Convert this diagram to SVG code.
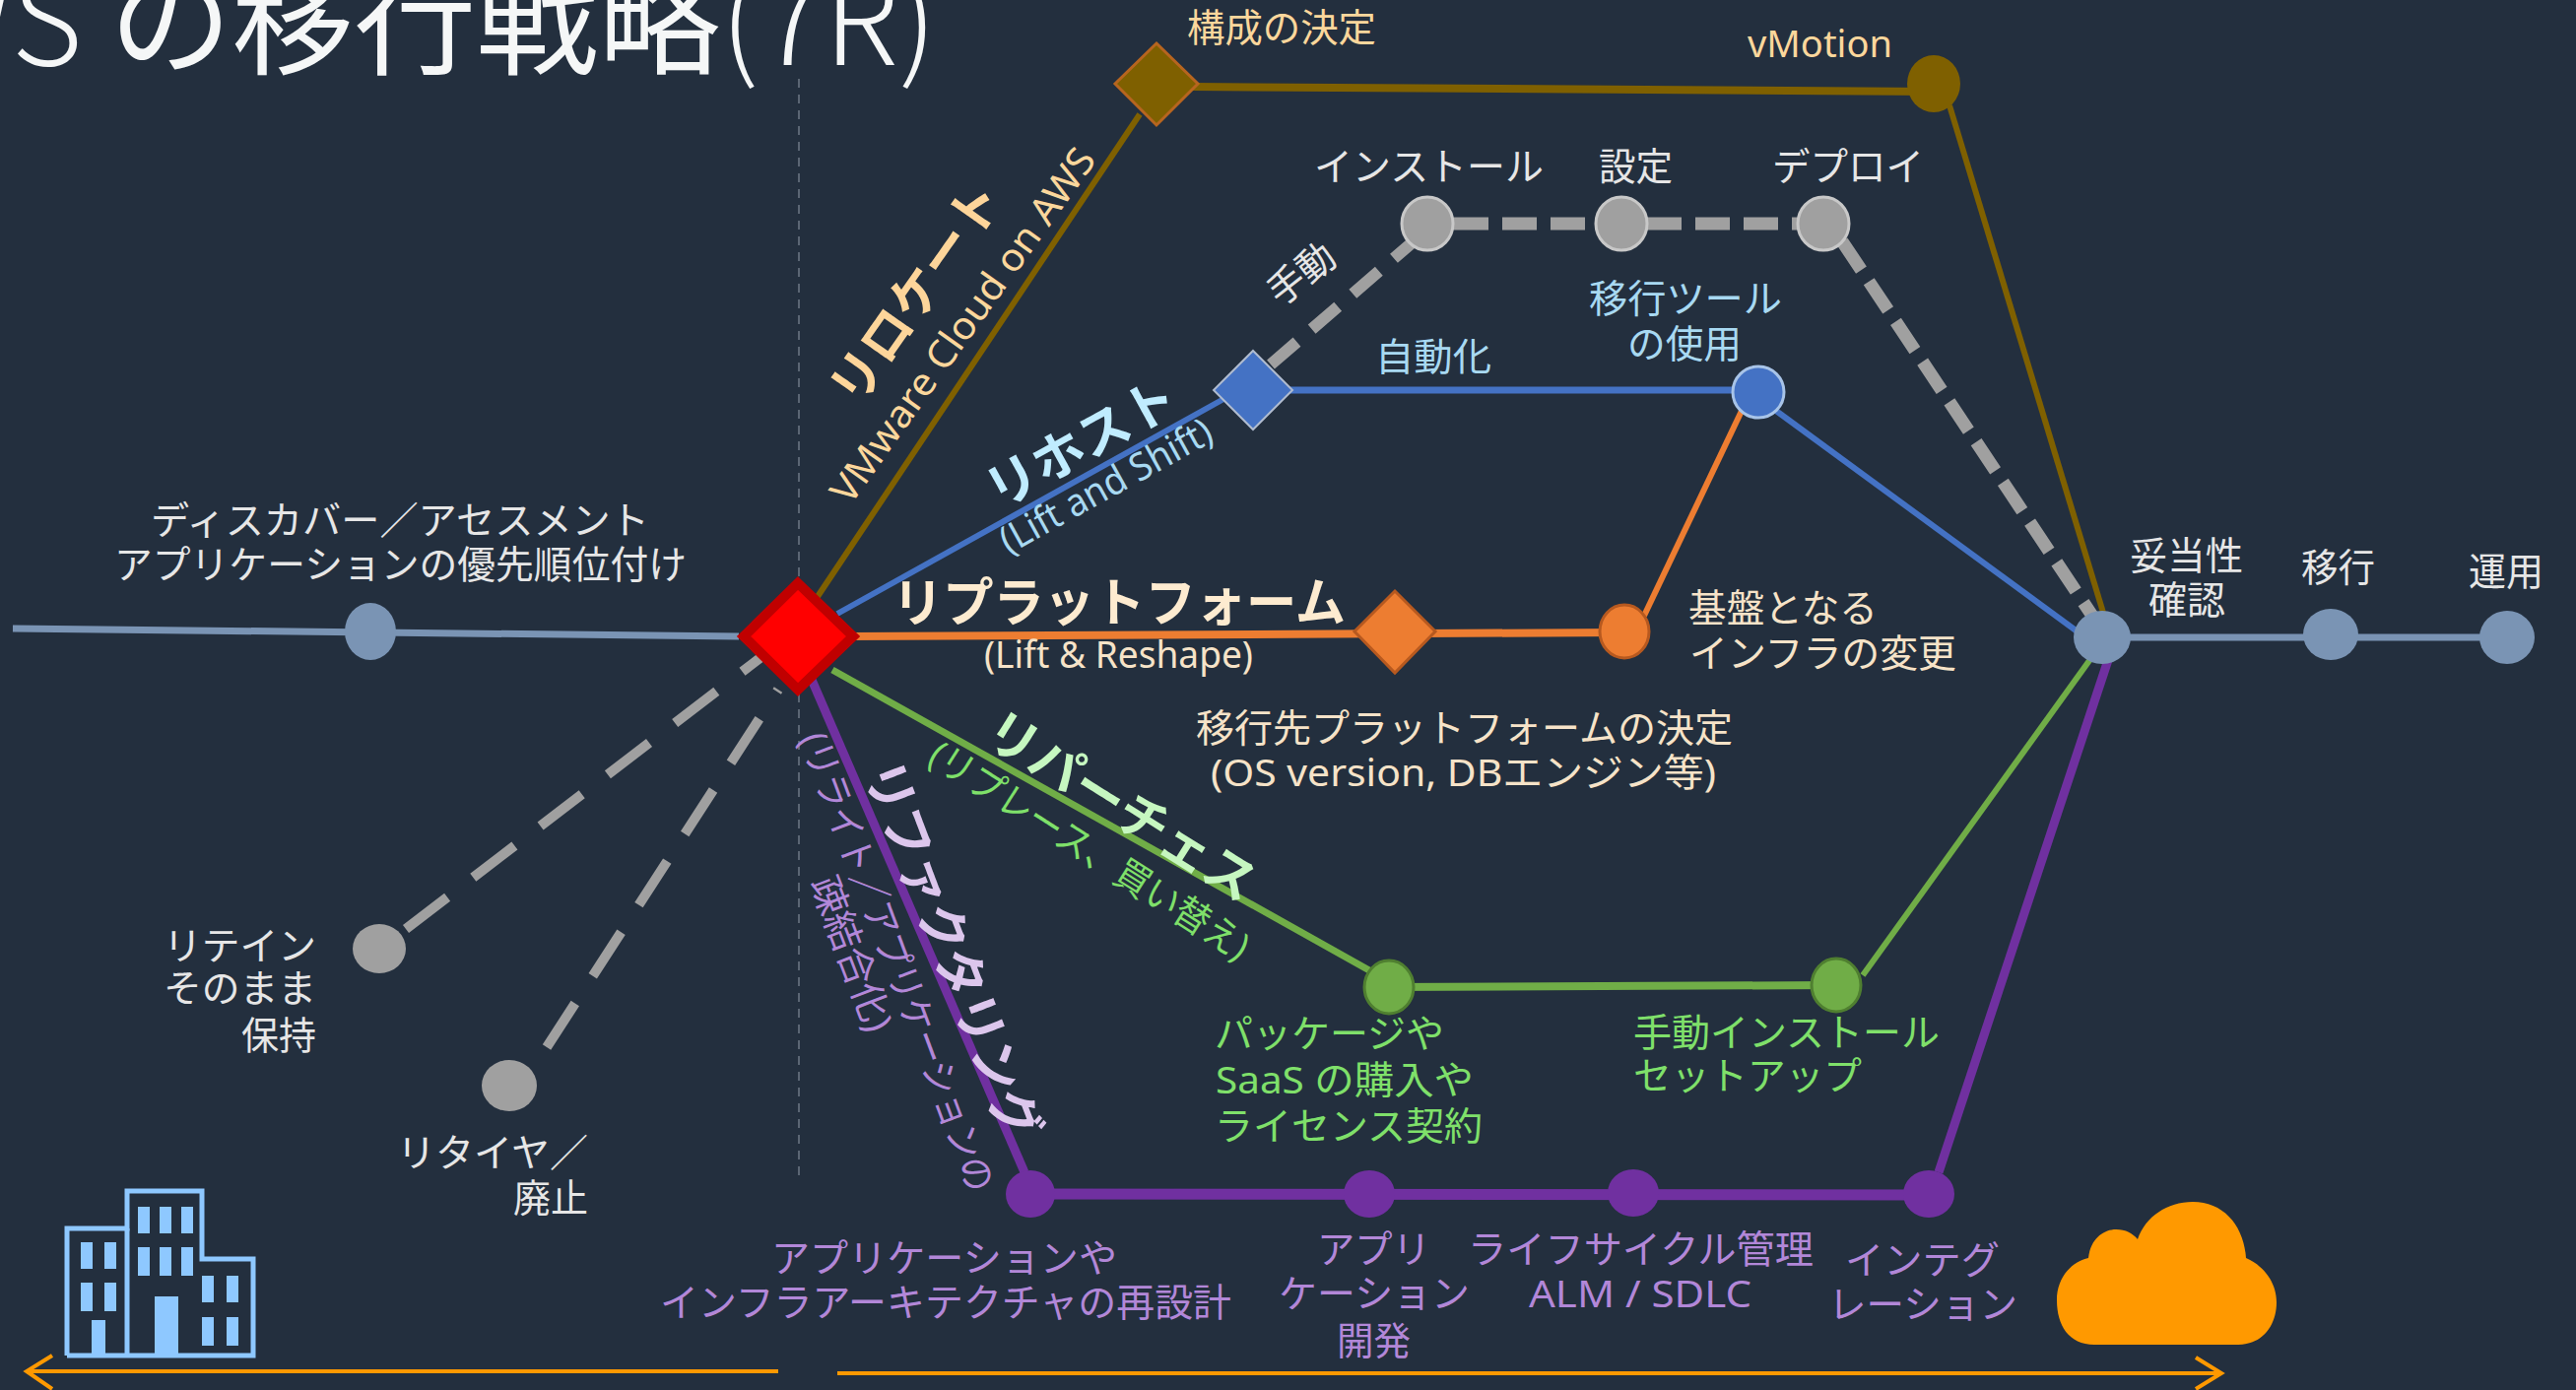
<svg xmlns="http://www.w3.org/2000/svg" width="2615" height="1411" viewBox="0 0 2615 1411">
<defs><style>
text{font-family:"Noto Sans","Noto Sans CJK JP",sans-serif;font-size:39px}
.b{font-weight:700;font-family:"Noto Sans CJK JP","Noto Sans",sans-serif;font-size:53px}
.w{fill:#e6e6e6}.c{fill:#f6e3c8}.g{fill:#fbd79c}.l{fill:#a8d9f2}.n{fill:#7fe06a}.p{fill:#b287d8}
.f{fill:none}
.gl{stroke:#7f6000;stroke-width:6}
.bl{stroke:#4472c4;stroke-width:6}
.or{stroke:#ed7d31;stroke-width:6}
.gr{stroke:#70ad47;stroke-width:6}
.pu{stroke:#7030a0;stroke-width:9}
.st{stroke:#7a94b4;stroke-width:7}
.da{stroke:#a0a0a0;stroke-dasharray:35 14;stroke-width:13}
.dr{stroke:#a0a0a0;stroke-width:10;stroke-dasharray:53 33}
.ar{stroke:#ff9900;stroke-width:4}
</style></defs>
<rect width="2615" height="1411" fill="#232f3e"/>
<text x="951" y="66" text-anchor="end" style="font-size:124px;fill:#f5f7f7;font-family:'Noto Sans CJK JP',sans-serif"><tspan font-weight="300">AWS </tspan>の移行戦略<tspan font-weight="300">(7R)</tspan></text>
<line x1="811" y1="80" x2="811" y2="1195" stroke="#6f7a86" stroke-width="1.5" stroke-dasharray="9 7"/>
<g id="connectors" fill="none">
<polyline class="f st" points="13,638 750,646"/>
<polyline class="f st" points="2134,647 2545,647"/>
<polyline class="f da" style="stroke-width:12;stroke-dasharray:35 20" points="1290,370 1435,245"/>
<polyline class="f da" points="1476,227 1824,227"/>
<polyline class="f da" points="1870,245 2134,640"/>
<polyline class="f dr" points="412,943 795,650"/>
<polyline class="f dr" points="555,1063 790,700"/>
<polyline class="f gl" points="829,607 1157,116"/>
<polyline class="f gl" style="stroke-width:8" points="1210,88 1963,93"/>
<polyline class="f gl" points="1979,107 2136,625"/>
<polyline class="f bl" points="850,623 1244,404"/>
<polyline class="f bl" style="stroke-width:7" points="1300,396 1785,396"/>
<polyline class="f bl" points="1803,417 2110,642"/>
<polyline class="f or" style="stroke-width:8" points="860,646 1649,642"/>
<polyline class="f or" points="1669,625 1768,417"/>
<polyline class="f gr" style="stroke-width:7" points="845,680 1390,985"/>
<polyline class="f gr" style="stroke-width:8" points="1410,1002 1864,1000"/>
<polyline class="f gr" points="1891,990 2125,665"/>
<polyline class="f pu" points="824,690 1040,1190"/>
<polyline class="f pu" style="stroke-width:11" points="1046,1212 1958,1213"/>
<polyline class="f pu" points="1968,1190 2140,670"/>
<g class="f ar"><polyline points="790,1392 27,1392"/><polyline points="53,1376 27,1392 53,1410"/><polyline points="850,1394 2254,1394"/><polyline points="2229,1378 2255,1394 2229,1410"/></g>
</g>
<g id="discover"><ellipse cx="376" cy="641" rx="26" ry="29" fill="#7a94b4"/><text class="w" x="153" y="542" textLength="506" lengthAdjust="spacingAndGlyphs">ディスカバー／アセスメント</text><text class="w" x="116" y="587" textLength="581" lengthAdjust="spacingAndGlyphs">アプリケーションの優先順位付け</text></g>
<g id="start"><polygon points="810,592 866,646 810,700 755,646" fill="#ff0000" stroke="#c00000" stroke-width="10"/></g>
<g id="relocate-decision"><polygon points="1174,44 1216,85 1174,127 1132,85" fill="#7f6000" stroke="#b7651f" stroke-width="3"/><text class="g" x="1205" y="42" textLength="192" lengthAdjust="spacingAndGlyphs">構成の決定</text></g>
<g id="vmotion"><ellipse cx="1963" cy="85" rx="27" ry="29" fill="#7f6000"/><text class="g" x="1774" y="58" textLength="147" lengthAdjust="spacingAndGlyphs">vMotion</text></g>
<g id="install"><ellipse cx="1449" cy="227" rx="26" ry="27" fill="#a0a0a0" stroke="#c8c8c8" stroke-width="3"/><text class="w" x="1334" y="183" textLength="233" lengthAdjust="spacingAndGlyphs">インストール</text></g>
<g id="config"><ellipse cx="1646" cy="227" rx="26" ry="27" fill="#a0a0a0" stroke="#c8c8c8" stroke-width="3"/><text class="w" x="1623" y="183" textLength="75" lengthAdjust="spacingAndGlyphs">設定</text></g>
<g id="deploy"><ellipse cx="1851" cy="227" rx="26" ry="27" fill="#a0a0a0" stroke="#c8c8c8" stroke-width="3"/><text class="w" x="1799" y="183" textLength="154" lengthAdjust="spacingAndGlyphs">デプロイ</text></g>
<g id="rehost-decision"><polygon points="1272,356 1312,396 1272,436 1232,396" fill="#4472c4" stroke="#b0bcd0" stroke-width="2"/><text class="w" transform="translate(1300,312) rotate(-38)" textLength="75" lengthAdjust="spacingAndGlyphs">手動</text><text class="l" x="1396" y="376" textLength="118" lengthAdjust="spacingAndGlyphs">自動化</text></g>
<g id="migration-tool"><ellipse cx="1785" cy="398" rx="26" ry="26" fill="#4472c4" stroke="#a8c4e8" stroke-width="3"/><text class="l" x="1613" y="317" textLength="196" lengthAdjust="spacingAndGlyphs">移行ツール</text><text class="l" x="1652" y="363" textLength="116" lengthAdjust="spacingAndGlyphs">の使用</text></g>
<g id="replatform-decision"><polygon points="1416,600 1457,641 1416,683 1375,641" fill="#ed7d31" stroke="#b7591f" stroke-width="3"/></g>
<g id="infra-change"><ellipse cx="1649" cy="641" rx="25" ry="27" fill="#ed7d31" stroke="#b7591f" stroke-width="3"/><text class="c" x="1714" y="631" textLength="192" lengthAdjust="spacingAndGlyphs">基盤となる</text><text class="c" x="1715" y="677" textLength="271" lengthAdjust="spacingAndGlyphs">インフラの変更</text></g>
<g id="package"><ellipse cx="1410" cy="1002" rx="25" ry="27" fill="#70ad47" stroke="#4f7f30" stroke-width="3"/><text class="n" x="1233" y="1063" textLength="233" lengthAdjust="spacingAndGlyphs">パッケージや</text><text class="n" x="1234" y="1110" textLength="262" lengthAdjust="spacingAndGlyphs">SaaS の購入や</text><text class="n" x="1233" y="1157" textLength="272" lengthAdjust="spacingAndGlyphs">ライセンス契約</text></g>
<g id="manual-install"><ellipse cx="1864" cy="1000" rx="25" ry="27" fill="#70ad47" stroke="#4f7f30" stroke-width="3"/><text class="n" x="1658" y="1062" textLength="311" lengthAdjust="spacingAndGlyphs">手動インストール</text><text class="n" x="1658" y="1106" textLength="232" lengthAdjust="spacingAndGlyphs">セットアップ</text></g>
<g id="validate"><ellipse cx="2134" cy="647" rx="29" ry="27" fill="#7a94b4"/><text class="w" x="2162" y="578" textLength="115" lengthAdjust="spacingAndGlyphs">妥当性</text><text class="w" x="2181" y="623" textLength="78" lengthAdjust="spacingAndGlyphs">確認</text></g>
<g id="migrate"><ellipse cx="2366" cy="644" rx="28" ry="26" fill="#7a94b4"/><text class="w" x="2336" y="590" textLength="75" lengthAdjust="spacingAndGlyphs">移行</text></g>
<g id="operate"><ellipse cx="2545" cy="647" rx="28" ry="27" fill="#7a94b4"/><text class="w" x="2506" y="594" textLength="76" lengthAdjust="spacingAndGlyphs">運用</text></g>
<g id="retain"><ellipse cx="385" cy="963" rx="27" ry="25" fill="#a0a0a0"/><text class="w" x="166" y="974" textLength="155" lengthAdjust="spacingAndGlyphs">リテイン</text><text class="w" x="166" y="1017" textLength="155" lengthAdjust="spacingAndGlyphs">そのまま</text><text class="w" x="245" y="1065" textLength="76" lengthAdjust="spacingAndGlyphs">保持</text></g>
<g id="retire"><ellipse cx="517" cy="1102" rx="28" ry="26" fill="#a0a0a0"/><text class="w" x="403" y="1184" textLength="194" lengthAdjust="spacingAndGlyphs">リタイヤ／</text><text class="w" x="521" y="1230" textLength="76" lengthAdjust="spacingAndGlyphs">廃止</text></g>
<g id="redesign"><ellipse cx="1046" cy="1212" rx="25" ry="24" fill="#7030a0"/><text class="p" x="783" y="1291" textLength="351" lengthAdjust="spacingAndGlyphs">アプリケーションや</text><text class="p" x="670" y="1336" textLength="580" lengthAdjust="spacingAndGlyphs">インフラアーキテクチャの再設計</text></g>
<g id="appdev"><ellipse cx="1390" cy="1212" rx="26" ry="24" fill="#7030a0"/><text class="p" x="1337" y="1282" textLength="115" lengthAdjust="spacingAndGlyphs">アプリ</text><text class="p" x="1298" y="1327" textLength="194" lengthAdjust="spacingAndGlyphs">ケーション</text><text class="p" x="1357" y="1375" textLength="75" lengthAdjust="spacingAndGlyphs">開発</text></g>
<g id="alm"><ellipse cx="1658" cy="1211" rx="26" ry="24" fill="#7030a0"/><text class="p" x="1490" y="1282" textLength="351" lengthAdjust="spacingAndGlyphs">ライフサイクル管理</text><text class="p" x="1552" y="1327" textLength="226" lengthAdjust="spacingAndGlyphs">ALM / SDLC</text></g>
<g id="integration"><ellipse cx="1958" cy="1212" rx="26" ry="24" fill="#7030a0"/><text class="p" x="1873" y="1293" textLength="157" lengthAdjust="spacingAndGlyphs">インテグ</text><text class="p" x="1856" y="1338" textLength="192" lengthAdjust="spacingAndGlyphs">レーション</text></g>
<g id="strategy-labels">
<text class="b" transform="translate(871,415) rotate(-55)" style="fill:#fdd59a" textLength="260" lengthAdjust="spacingAndGlyphs">リロケート</text>
<text class="g" transform="translate(863,514) rotate(-54.5)" textLength="432" lengthAdjust="spacingAndGlyphs">VMware Cloud on AWS</text>
<text class="b" transform="translate(1014,518) rotate(-29)" style="fill:#c0ecff" textLength="212" lengthAdjust="spacingAndGlyphs">リホスト</text>
<text class="l" transform="translate(1024,563) rotate(-29)" textLength="240" lengthAdjust="spacingAndGlyphs">(Lift and Shift)</text>
<text class="b" x="906" y="631" style="fill:#fdebd0" textLength="460" lengthAdjust="spacingAndGlyphs">リプラットフォーム</text>
<text class="c" x="999" y="678" textLength="273" lengthAdjust="spacingAndGlyphs">(Lift &amp; Reshape)</text>
<text class="c" x="1214" y="753" textLength="545" lengthAdjust="spacingAndGlyphs">移行先プラットフォームの決定</text>
<text class="c" x="1229" y="798" textLength="513" lengthAdjust="spacingAndGlyphs">(OS version, DBエンジン等)</text>
<text class="b" transform="translate(996,752) rotate(32)" style="fill:#c6f7c0" textLength="312" lengthAdjust="spacingAndGlyphs">リパーチェス</text>
<text class="n" transform="translate(940,774) rotate(32.5)" textLength="376" lengthAdjust="spacingAndGlyphs">(リプレース、買い替え)</text>
<text class="b" transform="translate(876,782) rotate(69)" style="fill:#dcc6ec" textLength="406" lengthAdjust="spacingAndGlyphs">リファクタリング</text>
<text class="p" transform="translate(811,750) rotate(69.5)" textLength="494" lengthAdjust="spacingAndGlyphs">(リライト／アプリケーションの</text>
<text class="p" transform="translate(822,896) rotate(69)" textLength="165" lengthAdjust="spacingAndGlyphs">疎結合化)</text>
</g>
<g id="on-premises" fill="none" stroke="#8ec8ff" stroke-width="5">
<polyline points="68,1376 68,1247 129,1247 129,1209 205,1209 205,1278 257,1278 257,1376 68,1376"/>
<line x1="129" y1="1247" x2="129" y2="1376"/>
<g fill="#8ec8ff" stroke="none">
<rect x="82" y="1261" width="12" height="27"/><rect x="106" y="1261" width="12" height="27"/><rect x="82" y="1302" width="12" height="29"/><rect x="106" y="1302" width="12" height="29"/><rect x="93" y="1340" width="14" height="36"/>
<rect x="140" y="1225" width="12" height="27"/><rect x="162" y="1225" width="12" height="27"/><rect x="184" y="1225" width="12" height="27"/>
<rect x="140" y="1266" width="12" height="29"/><rect x="162" y="1266" width="12" height="29"/><rect x="184" y="1266" width="12" height="29"/>
<rect x="157" y="1316" width="24" height="60"/>
<rect x="205" y="1295" width="12" height="27"/><rect x="230" y="1295" width="12" height="27"/><rect x="205" y="1337" width="12" height="29"/><rect x="230" y="1337" width="12" height="29"/>
</g></g>
<g id="aws-cloud"><path d="M2126,1365 C2100,1365 2088,1345 2088,1320 C2088,1295 2105,1280 2120,1277 C2122,1258 2135,1248 2148,1248 C2158,1248 2165,1252 2170,1258 C2178,1235 2200,1220 2226,1220 C2258,1220 2278,1245 2280,1277 C2298,1285 2311,1302 2311,1322 C2311,1345 2297,1365 2272,1365 Z" fill="#ff9900"/></g>
</svg>
